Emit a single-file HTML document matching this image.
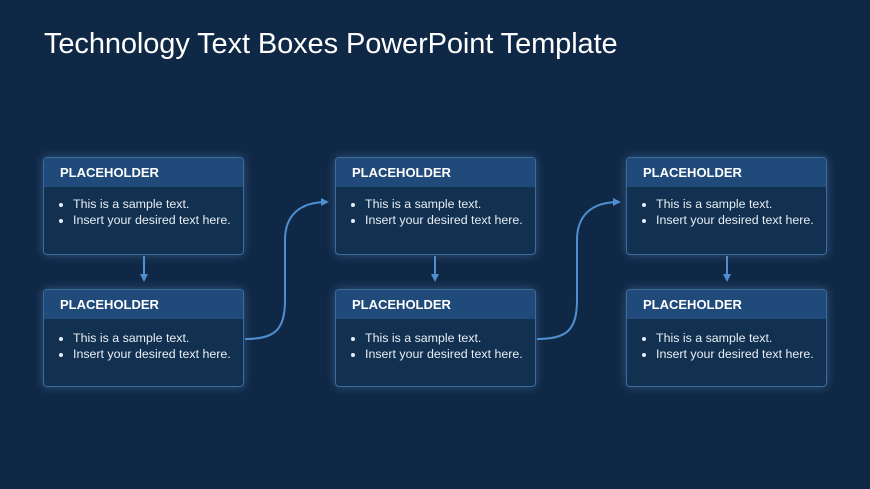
<!DOCTYPE html>
<html><head><style>
body{margin:0;width:870px;height:489px;background:#0f2846;font-family:"Liberation Sans",sans-serif;position:relative;overflow:hidden}
h1{position:absolute;left:44px;top:28px;margin:0;font-weight:normal;font-size:29px;color:#fff;letter-spacing:-0.1px}
.b{position:absolute;width:199px;height:96px;border:1.5px solid #3b6c9e;border-radius:4px;background:#12304f;box-shadow:0 0 10px rgba(120,170,230,0.35);overflow:hidden}
.h{height:29px;background:#1f4a79;color:#fff;font-weight:bold;font-size:13px;line-height:29px;padding-left:16px}
ul{margin:9px 0 0 0;padding-left:29px;color:#e8eef5;font-size:12.4px;line-height:16px}
li{padding-left:0}
</style></head><body>
<h1>Technology Text Boxes PowerPoint Template</h1>
<div class="b" style="left:43px;top:157px"><div class="h">PLACEHOLDER</div><ul><li>This is a sample text.</li><li>Insert your desired text here.</li></ul></div>
<div class="b" style="left:43px;top:289px"><div class="h">PLACEHOLDER</div><ul style="margin-top:11px"><li>This is a sample text.</li><li>Insert your desired text here.</li></ul></div>
<div class="b" style="left:335px;top:157px"><div class="h">PLACEHOLDER</div><ul><li>This is a sample text.</li><li>Insert your desired text here.</li></ul></div>
<div class="b" style="left:335px;top:289px"><div class="h">PLACEHOLDER</div><ul style="margin-top:11px"><li>This is a sample text.</li><li>Insert your desired text here.</li></ul></div>
<div class="b" style="left:626px;top:157px"><div class="h">PLACEHOLDER</div><ul><li>This is a sample text.</li><li>Insert your desired text here.</li></ul></div>
<div class="b" style="left:626px;top:289px"><div class="h">PLACEHOLDER</div><ul style="margin-top:11px"><li>This is a sample text.</li><li>Insert your desired text here.</li></ul></div>
<svg width="870" height="489" style="position:absolute;left:0;top:0">
<defs><marker id="a" markerWidth="8" markerHeight="8" refX="6" refY="4" orient="auto" markerUnits="userSpaceOnUse"><path d="M0,0 L8,4 L0,8 z" fill="#4f8fd0"/></marker></defs>
<g stroke="#4f8fd0" stroke-width="2" fill="none" marker-end="url(#a)">
<path d="M144,256 V280"/>
<path d="M435,256 V280"/>
<path d="M727,256 V280"/>
<path d="M245,339 C275,339 285,330 285,300 V240 C285,215 300,202 327,202"/>
<path d="M537,339 C567,339 577,330 577,300 V240 C577,215 592,202 619,202"/>
</g></svg>
</body></html>
